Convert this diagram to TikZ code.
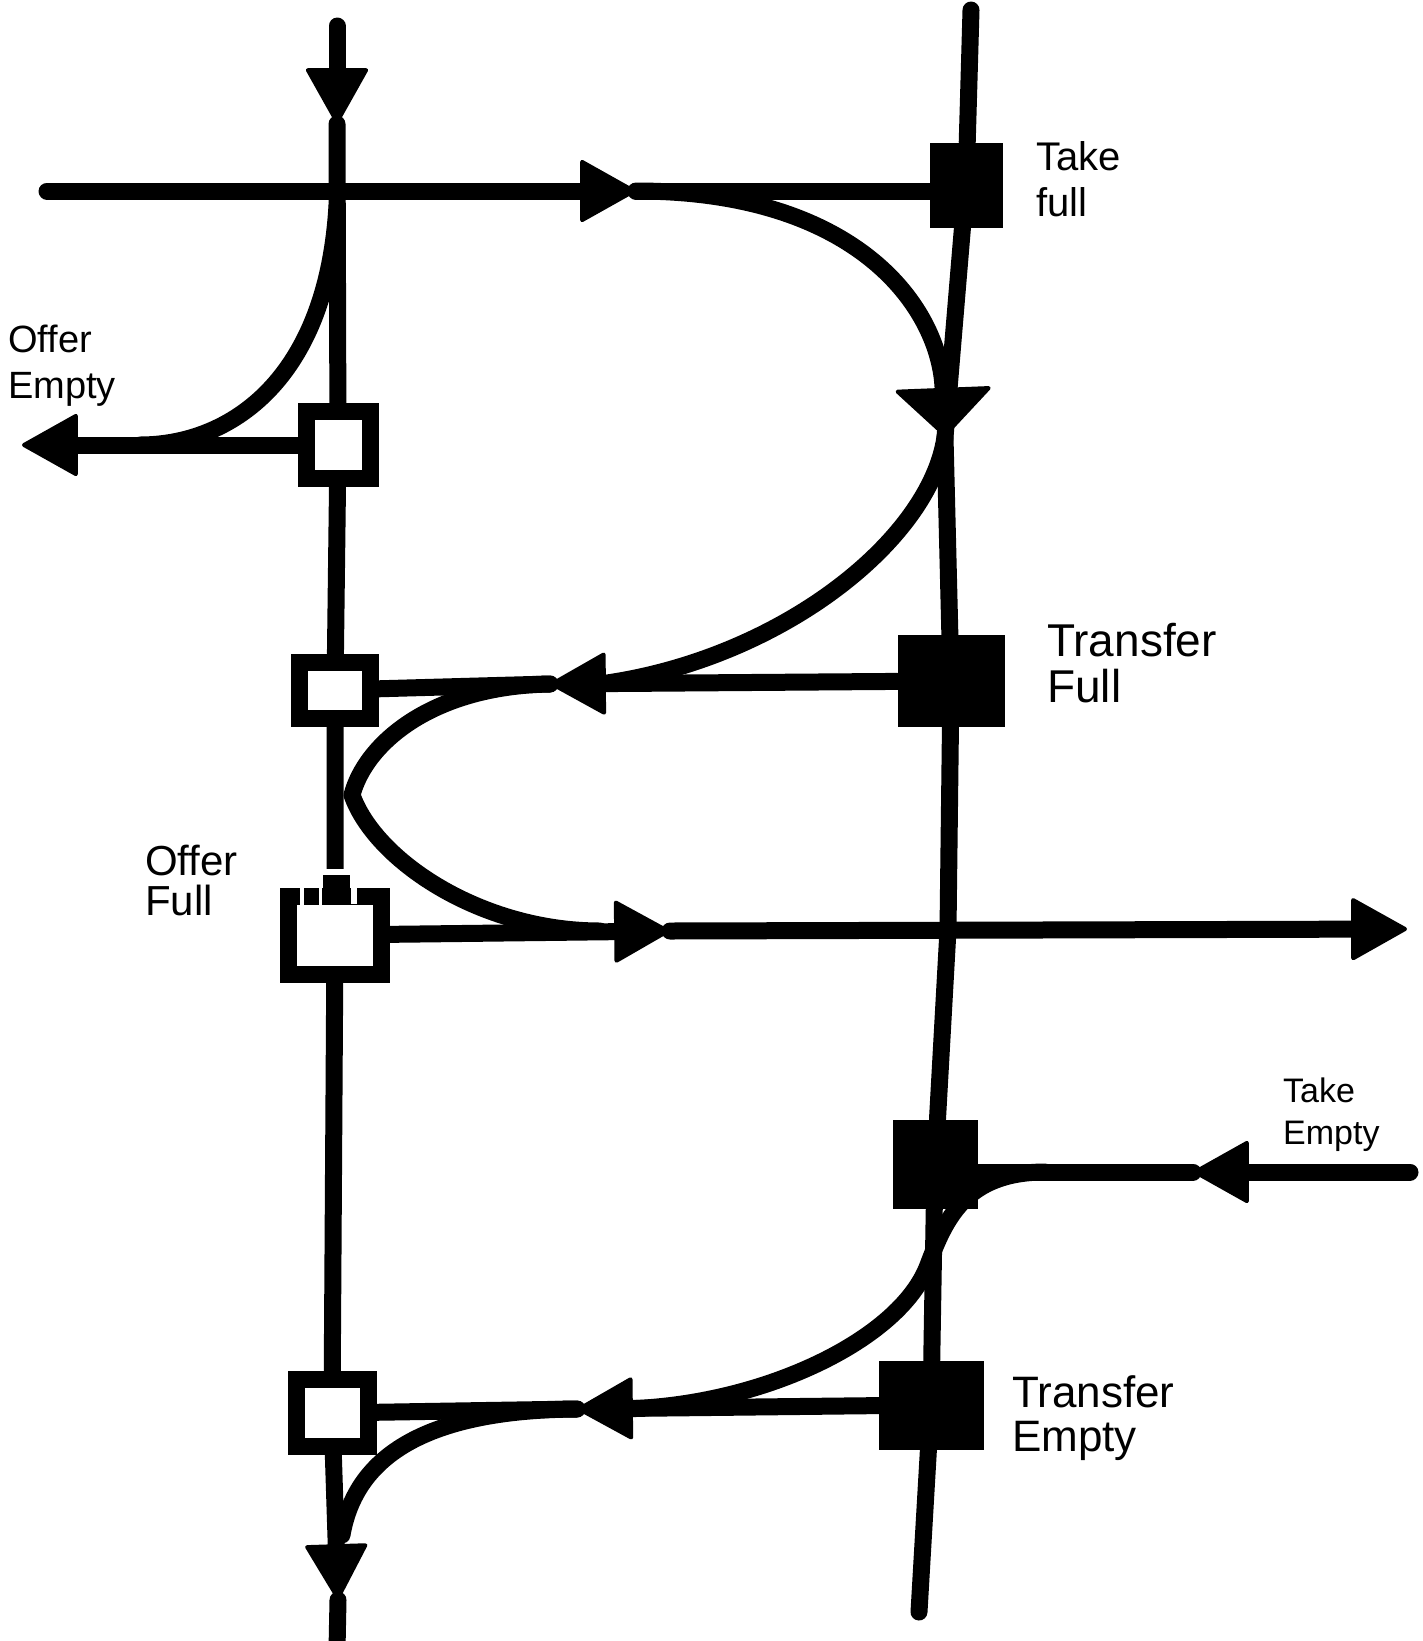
\documentclass[tikz,border=0pt]{standalone}
\usepackage{fontspec}
\setmainfont{Liberation Sans}
\usetikzlibrary{arrows.meta,positioning}

\tikzset{
  wire/.style={line width=17pt, line cap=round, line join=round},
  flow/.style={wire, -{Triangle[length=58pt,width=64pt,line width=4pt,round]}},
  bigflow/.style={wire, -{Triangle[length=50pt,width=100pt,line width=4pt,round]}},
  emptybox/.style={draw, line width=17pt, fill=white, inner sep=0pt},
  fullbox/.style={fill=black, inner sep=0pt},
  lbl/.style={align=left, anchor=north west, inner sep=0pt},
}

\begin{document}
\begin{tikzpicture}[x=1pt,y=-1pt]
    \useasboundingbox (0,0) rectangle (1422,1641);

    % left track
    \node[emptybox, minimum width=64pt, minimum height=67pt] (offerempty) at (338,445) {};
    \node[emptybox, minimum width=71pt, minimum height=56pt] (box2) at (335,690) {};
    \node[emptybox, minimum width=93pt, minimum height=78pt] (offerfull) at (335,935) {};
    \node[emptybox, minimum width=72pt, minimum height=67pt] (box4) at (332,1413) {};

    % right track
    \node[fullbox, minimum width=73pt, minimum height=85pt] (takefull) at (966,185) {};
    \node[fullbox, minimum width=107pt, minimum height=92pt] (transferfull) at (951,681) {};
    \node[fullbox, minimum width=85pt, minimum height=89pt] (takeempty) at (935,1164) {};
    \node[fullbox, minimum width=105pt, minimum height=89pt] (transferempty) at (931,1405) {};

    \coordinate (ltop) at (337,26);
    \coordinate (ltoptip) at (337,124);
    \coordinate (lbottip) at (338,1600);
    \coordinate (lbot) at (337,1650);
    \coordinate (oebranch) at (337,205);
    \coordinate (oetip) at (22,445);
    \coordinate (rtop) at (971,10);
    \coordinate (rtip) at (945,437);
    \coordinate (rmid) at (948,930);
    \coordinate (rbot) at (919,1612);
    \coordinate (topin) at (47,191);
    \coordinate (toptip) at (636,191);
    \coordinate (tftip) at (550,684);
    \coordinate (oftip) at (670,931);
    \coordinate (ofend) at (1407,929);
    \coordinate (teend) at (1410,1172);
    \coordinate (tetip) at (1193,1172);
    \coordinate (tebranch) at (1045,1172);
    \coordinate (tetip2) at (577,1409);

    \draw[flow] (ltop) -- (ltoptip);
    \draw[wire] (ltoptip) -- (offerempty) -- (box2) -- (offerfull) -- (box4);
    \draw[flow] (box4) -- (lbottip);
    \draw[wire] (lbottip) -- (lbot);

    \draw[wire] (rtop) -- (takefull) -- (rtip) -- (transferfull) -- (rmid)
        -- (takeempty) -- (transferempty) -- (rbot);

    % full side
    \draw[flow] (topin) -- (toptip);
    \draw[wire] (toptip) -- (toptip -| takefull.west);
    \draw[bigflow] (toptip) .. controls (860,191) and (940,310) .. (rtip);
    \draw[wire] (rtip) .. controls (930,540) and (780,660) .. (600,684);
    \draw[flow] (transferfull) -- (tftip);
    \draw[wire] (tftip) -- (box2);
    \draw[wire] (tftip) .. controls (430,686) and (365,745) .. (352,795)
        .. controls (375,860) and (480,931) .. (600,931);
    \draw[flow] (offerfull) -- (oftip);
    \draw[flow] (oftip) -- (ofend);

    % empty side
    \draw[flow] (offerempty) -- (oetip);
    \draw[wire] (oebranch) .. controls (327,380) and (230,445) .. (140,445);
    \draw[flow] (teend) -- (tetip);
    \draw[wire] (tetip) -- (tetip -| takeempty.east);
    \draw[wire] (tebranch) .. controls (965,1172) and (945,1220) .. (928,1265)
        .. controls (900,1340) and (760,1407) .. (620,1409);
    \draw[flow] (transferempty) -- (tetip2);
    \draw[wire] (tetip2) -- (box4);
    \draw[wire] (tetip2) .. controls (420,1410) and (355,1460) .. (342,1535);

    % notched top of the offer full box
    \fill (323,875) rectangle (350,890);
    \fill[white] (324,869) rectangle (351,875);
    \fill[white] (300,887) rectangle (304,906);
    \fill[white] (319,887) rectangle (322,906);
    \fill[white] (351,887) rectangle (357,904);

    % labels
    \node[lbl, font=\fontsize{40}{46}\selectfont] (takefulllbl) at (1036,141) {Take\\full};
    \node[lbl, font=\fontsize{46}{46}\selectfont] (transferfulllbl) at (1047,623) {Transfer\\Full};
    \node[lbl, font=\fontsize{34}{42}\selectfont] (takeemptylbl) at (1283,1078) {Take\\Empty};
    \node[lbl, font=\fontsize{44}{44}\selectfont] (transferemptylbl) at (1012,1375) {Transfer\\Empty};
    \node[lbl, font=\fontsize{38}{46}\selectfont] (offeremptylbl) at (8,325) {Offer\\Empty};
    \node[lbl, font=\fontsize{42}{40}\selectfont] (offerfulllbl) at (145,845) {Offer\\Full};
\end{tikzpicture}
\end{document}
